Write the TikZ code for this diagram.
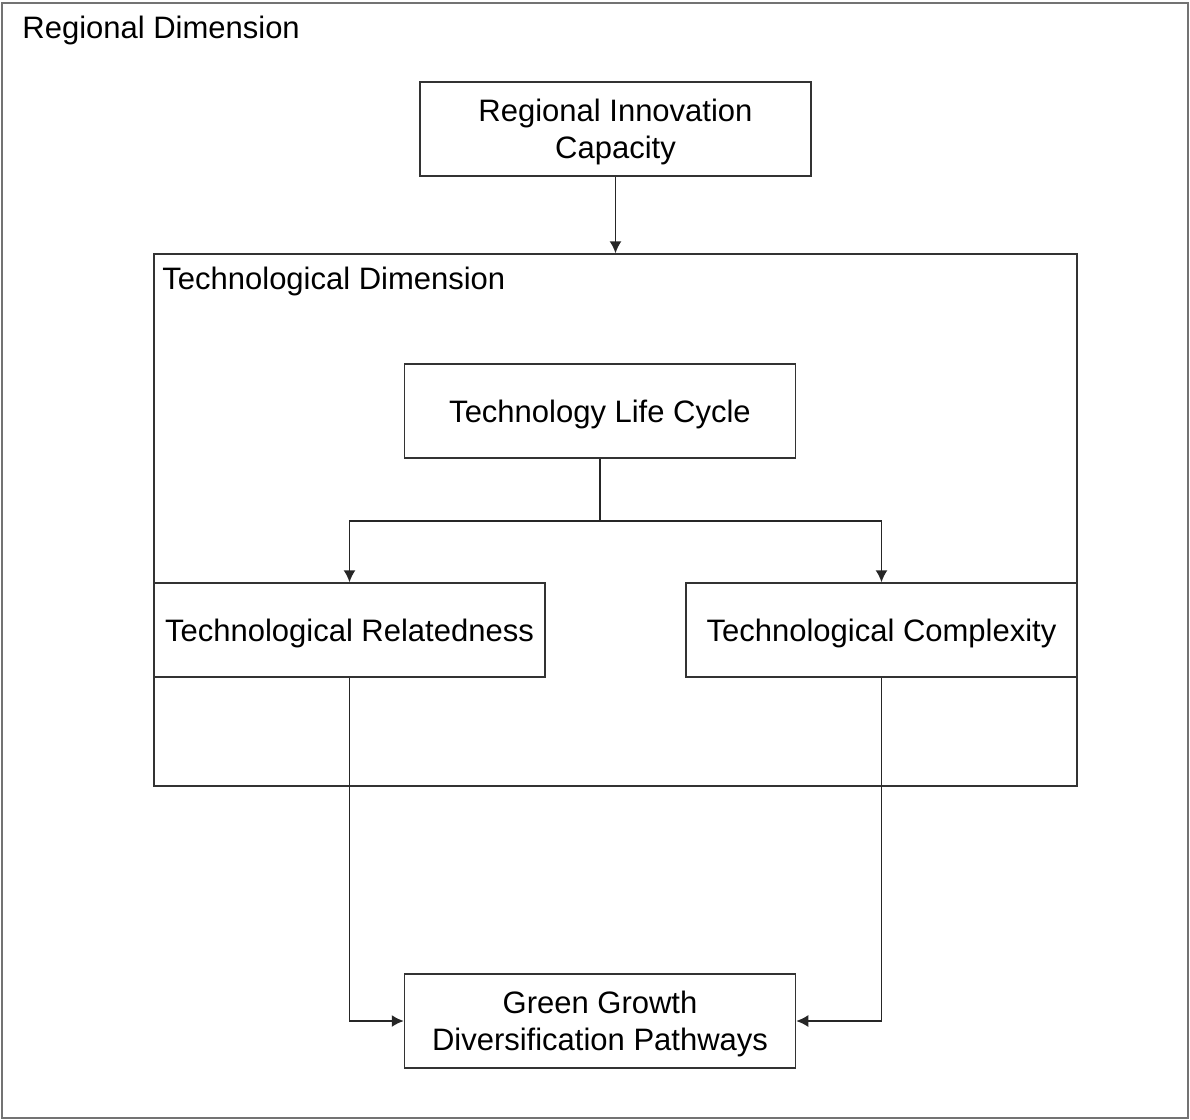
\documentclass[tikz,border=0pt]{standalone}
\usepackage{fontspec}
\setmainfont{Liberation Sans}
\usetikzlibrary{arrows.meta,positioning}

\begin{document}
\begin{tikzpicture}[x=0.5pt, y=-0.5pt,
    font=\fontsize{15.5}{18.5}\selectfont,
    box/.style = {draw=black!80, line width=0.75pt, minimum width=195.5pt,
                  minimum height=47pt, inner sep=0pt, align=center, text depth=0pt},
    lbl/.style = {anchor=west, inner sep=0pt, text depth=0pt},
    frame/.style = {draw=black!55, line width=1.3pt, inner sep=0pt},
    arr/.style = {draw=black!85, line width=0.75pt, -{Latex[length=6pt,width=6pt]}}]
  \useasboundingbox (0,0) rectangle (1190,1120);

  \node[frame, minimum width=593pt, minimum height=557.5pt] (reg) at (595,560.5) {};
  \node[lbl] (regl) at (22,27) {Regional Dimension};

  \node[box] (ric) at (615.5,129) {Regional Innovation\\Capacity};

  \node[draw=black!80, line width=0.75pt, inner sep=0pt,
        minimum width=461.5pt, minimum height=266pt] (td) at (615.5,520) {};
  \node[lbl] (tdl) at (162,278) {Technological Dimension};

  \node[box] (tlc) at (600,411) {Technology Life Cycle};
  \node[box] (tr) at (349.5,630) {Technological Relatedness};
  \node[box] (tc) at (881.5,630) {Technological Complexity};

  \node[box] (gg) at (600,1021) {Green Growth\\Diversification Pathways};

  \draw[arr] (ric.south) -- (ric.south |- td.north);
  \draw[draw=black!85, line width=0.75pt] (tlc.south) -- ++(0,62) coordinate (s);
  \draw[arr] (s) -| (tr.north);
  \draw[arr] (s) -| (tc.north);
  \draw[arr] (tr.south) |- (gg.west);
  \draw[arr] (tc.south) |- (gg.east);
\end{tikzpicture}
\end{document}
